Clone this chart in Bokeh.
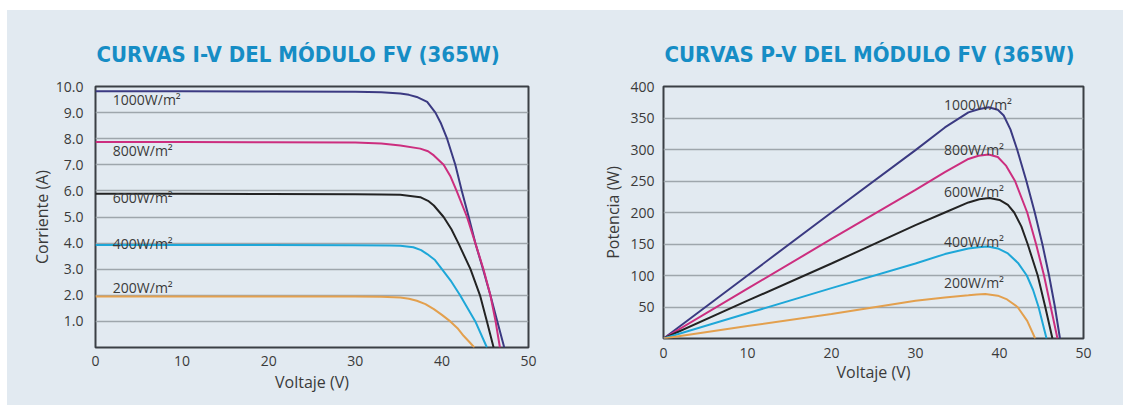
from bokeh.plotting import figure
from bokeh.layouts import row
from bokeh.models import Range1d, FixedTicker
from bokeh.core.properties import value
from bokeh.embed import file_html
from bokeh.resources import INLINE

# ---------------- data ----------------
iv_title = "CURVAS I-V DEL MÓDULO FV (365W)"
pv_title = "CURVAS P-V DEL MÓDULO FV (365W)"
series_names = ["1000W/m²", "800W/m²", "600W/m²", "400W/m²", "200W/m²"]
series_colors = ["#3b3a82", "#cc2e7f", "#232323", "#1ea7d8", "#e3a04e"]

# I-V curves (Voltaje V, Corriente A)
iv_v_1000 = [0, 10, 20, 30, 33, 35.2, 36.2, 37.1, 38.3, 39.25, 39.9, 40.6, 41.55, 42.3, 43.1, 43.86, 44.75, 45.6, 46.4, 47.2]
iv_i_1000 = [9.82, 9.82, 9.81, 9.80, 9.78, 9.73, 9.68, 9.60, 9.41, 9.0, 8.58, 8.0, 7.0, 6.0, 5.0, 4.0, 3.0, 2.0, 1.0, 0.0]
iv_v_800 = [0, 10, 20, 30, 33, 35.2, 37.5, 38.4, 39.07, 40.2, 41.0, 41.7, 42.9, 43.86, 44.8, 45.6, 46.2, 46.7]
iv_i_800 = [7.87, 7.87, 7.86, 7.85, 7.82, 7.74, 7.62, 7.52, 7.36, 7.0, 6.55, 6.0, 5.0, 4.0, 3.0, 2.0, 1.0, 0.0]
iv_v_600 = [0, 10, 20, 30, 33, 35.2, 37.5, 38.4, 39.07, 40.2, 41.1, 41.9, 43.3, 44.4, 45.2, 45.97]
iv_i_600 = [5.89, 5.89, 5.88, 5.87, 5.86, 5.85, 5.76, 5.62, 5.44, 5.0, 4.53, 4.0, 3.0, 2.0, 1.0, 0.0]
iv_v_400 = [0, 10, 20, 30, 34, 35.2, 36.7, 37.6, 38.3, 39.2, 40.0, 41.1, 42.1, 43.86, 45.2]
iv_i_400 = [3.93, 3.93, 3.93, 3.92, 3.91, 3.90, 3.84, 3.73, 3.58, 3.35, 3.0, 2.52, 2.0, 1.0, 0.0]
iv_v_200 = [0, 10, 20, 30, 33, 35.2, 36.2, 37.1, 38.1, 39.07, 40.0, 40.97, 41.8, 42.5, 43.2, 43.75]
iv_i_200 = [1.95, 1.95, 1.95, 1.95, 1.94, 1.92, 1.87, 1.79, 1.66, 1.47, 1.25, 1.0, 0.74, 0.45, 0.2, 0.0]

# P-V curves (Voltaje V, Potencia W)
pv_v_1000 = [0, 10, 20, 30, 33.5, 36.3, 37.5, 38.7, 39.8, 40.5, 41.3, 42.1, 43.2, 44.2, 45.1, 45.9, 46.6, 47.2]
pv_p_1000 = [0, 100, 200, 299, 335, 359, 364, 367, 363, 354, 332, 300, 250, 200, 150, 100, 50, 0]
pv_v_800 = [0, 10, 20, 30, 33.5, 36.3, 37.5, 38.7, 39.8, 40.8, 41.85, 43.3, 44.35, 45.3, 46.1, 46.9]
pv_p_800 = [0, 79, 158, 236, 264, 285, 290, 292, 288, 274, 250, 200, 150, 100, 50, 0]
pv_v_600 = [0, 10, 20, 30, 33.5, 36.3, 37.6, 38.8, 40.0, 41.0, 41.75, 42.6, 43.35, 44.55, 45.45, 46.3]
pv_p_600 = [0, 60, 119, 180, 200, 216, 221, 223, 220, 212, 200, 178, 150, 100, 50, 0]
pv_v_400 = [0, 10, 20, 30, 33.5, 36.3, 37.5, 38.6, 39.8, 41.0, 42.2, 43.25, 44.0, 44.65, 45.6]
pv_p_400 = [0, 40, 80, 119, 134, 143, 145, 146, 143, 135, 120, 100, 77, 50, 0]
pv_v_200 = [0, 10, 20, 30, 33.5, 36.3, 37.3, 38.3, 39.8, 40.9, 42.15, 43.3, 44.25]
pv_p_200 = [0, 19.7, 39, 60, 65, 68.6, 70, 70.6, 68, 62, 50, 28, 0]

# label anchor positions (data units)
iv_label_v = [2.0, 2.0, 2.0, 2.0, 2.0]
iv_label_i = [9.52, 7.54, 5.75, 4.0, 2.28]
pv_label_v = [33.4, 33.4, 33.4, 33.4, 33.4]
pv_label_p = [371.5, 300, 233.7, 154, 89]

x_ticks = [0, 10, 20, 30, 40, 50]
iv_y_ticks = [1, 2, 3, 4, 5, 6, 7, 8, 9, 10]
iv_y_tick_labels = ["1.0", "2.0", "3.0", "4.0", "5.0", "6.0", "7.0", "8.0", "9.0", "10.0"]
pv_y_ticks = [50, 100, 150, 200, 250, 300, 350, 400]

x_label = "Voltaje (V)"
iv_y_label = "Corriente (A)"
pv_y_label = "Potencia (W)"

# ---------------- style ----------------
BG = "#e2eaf1"
TITLE_COLOR = "#168dc5"
TXT = "#3a3a3a"
FONT = "Open Sans"


def make_fig(fw, fh, yr, mb, title):
    p = figure(frame_width=fw, frame_height=fh,
               x_range=Range1d(0, 50), y_range=Range1d(*yr),
               output_backend="svg", toolbar_location=None,
               min_border_left=mb[0], min_border_right=mb[1],
               min_border_top=mb[2], min_border_bottom=mb[3],
               background_fill_color=BG, border_fill_color=BG,
               outline_line_color="#3a3f45", outline_line_width=2,
               title=title)
    p.title.align = "left"
    p.title.offset = 1
    p.title.standoff = 39
    p.title.text_font = "DejaVu Sans Condensed"
    p.title.text_font_style = "bold"
    p.title.text_font_size = "22px"
    p.title.text_color = TITLE_COLOR
    p.xgrid.grid_line_color = None
    p.ygrid.grid_line_color = "#9ea6ac"
    p.ygrid.grid_line_width = 1.5
    for ax in (p.xaxis[0], p.yaxis[0]):
        ax.axis_line_color = None
        ax.major_tick_line_color = None
        ax.minor_tick_line_color = None
        ax.major_tick_in = 0
        ax.major_tick_out = 0
        ax.minor_tick_in = 0
        ax.minor_tick_out = 0
        ax.major_label_text_font = FONT
        ax.major_label_text_font_size = "14px"
        ax.major_label_text_color = TXT
        ax.axis_label_text_font = FONT
        ax.axis_label_text_font_size = "16px"
        ax.axis_label_text_font_style = "normal"
        ax.axis_label_text_color = TXT
    p.xaxis.ticker = FixedTicker(ticks=x_ticks)
    p.xaxis.axis_label = x_label
    return p


# I-V figure
p1 = make_fig(433, 261, (0, 10), (88, 40, 76, 58), iv_title)
p1.yaxis.ticker = FixedTicker(ticks=iv_y_ticks)
p1.yaxis.major_label_overrides = {float(t): l for t, l in zip(iv_y_ticks, iv_y_tick_labels)}
p1.yaxis.axis_label = iv_y_label
p1.yaxis.major_label_standoff = 12
p1.yaxis.axis_label_standoff = 0
p1.xaxis.major_label_standoff = 8
p1.xaxis.axis_label_standoff = 2

iv_v = [iv_v_1000, iv_v_800, iv_v_600, iv_v_400, iv_v_200]
iv_i = [iv_i_1000, iv_i_800, iv_i_600, iv_i_400, iv_i_200]
for xs, ys, c in zip(iv_v, iv_i, series_colors):
    p1.line(xs, ys, line_color=c, line_width=2)
p1.text(x=iv_label_v, y=iv_label_i, text=series_names,
        text_font=value(FONT), text_font_size=value("14px"),
        text_color=TXT, text_baseline="middle", text_align="left")

# P-V figure
p2 = make_fig(420, 252, (0, 400), (95, 40, 76, 67), pv_title)
p2.yaxis.ticker = FixedTicker(ticks=pv_y_ticks)
p2.yaxis.axis_label = pv_y_label
p2.yaxis.major_label_standoff = 9
p2.yaxis.axis_label_standoff = 3
p2.xaxis.major_label_standoff = 9
p2.xaxis.axis_label_standoff = 0

pv_v = [pv_v_1000, pv_v_800, pv_v_600, pv_v_400, pv_v_200]
pv_p = [pv_p_1000, pv_p_800, pv_p_600, pv_p_400, pv_p_200]
for xs, ys, c in zip(pv_v, pv_p, series_colors):
    p2.line(xs, ys, line_color=c, line_width=2)
p2.text(x=pv_label_v, y=pv_label_p, text=series_names,
        text_font=value(FONT), text_font_size=value("14px"),
        text_color=TXT, text_baseline="middle", text_align="left")

layout = row(p1, p2, margin=(10, 0, 0, 7), styles={"background-color": BG})
open("out.html", "w").write(file_html(layout, INLINE))
